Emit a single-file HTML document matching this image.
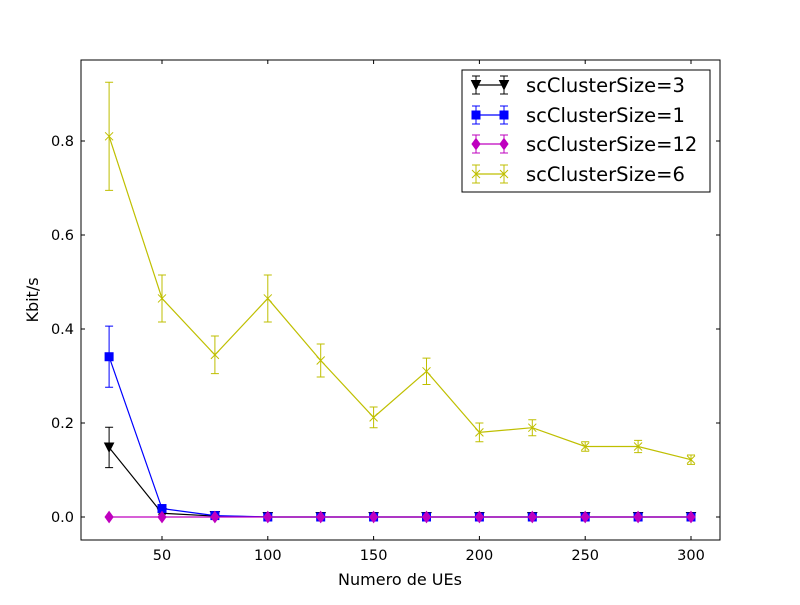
<!DOCTYPE html>
<html><head><meta charset="utf-8"><style>
body{margin:0;background:#fff;}
svg text{font-family:"DejaVu Sans","Liberation Sans",sans-serif;}
</style></head><body>
<svg id="chart" width="800" height="600" xmlns="http://www.w3.org/2000/svg">
<rect width="800" height="600" fill="#fff"/>
<g id="marks"></g>
<rect x="81" y="60" width="639" height="480" fill="none" stroke="#000" stroke-width="1"/>
<g id="axes"></g>
<text x="400" y="585" font-size="16" text-anchor="middle">Numero de UEs</text>
<text transform="translate(38,300) rotate(-90)" font-size="16" text-anchor="middle">Kbit/s</text>
<g id="legend"></g>
</svg>
<script>
const xs=[25,50,75,100,125,150,175,200,225,250,275,300];
const s3=[0.148,0.008,0.002,0,0,0,0,0,0,0,0,0];
const e3=[0.043,0.002,0,0,0,0,0,0,0,0,0,0];
const s1=[0.341,0.018,0.003,0,0,0,0,0,0,0,0,0];
const e1=[0.065,0.004,0,0,0,0,0,0,0,0,0,0];
const s12=[0,0,0,0,0,0,0,0,0,0,0,0];
const e12=[0,0,0,0,0,0,0,0,0,0,0,0];
const s6=[0.81,0.465,0.345,0.465,0.333,0.212,0.31,0.18,0.19,0.15,0.15,0.122];
const e6=[0.115,0.05,0.04,0.05,0.035,0.022,0.028,0.02,0.017,0.01,0.013,0.01];
const xTicks=[50,100,150,200,250,300];
const yTicks=[0,0.2,0.4,0.6,0.8];
const yTickLabels=["0.0","0.2","0.4","0.6","0.8"];
const names=["scClusterSize=3","scClusterSize=1","scClusterSize=12","scClusterSize=6"];

const NS="http://www.w3.org/2000/svg";
function X(v){return 162+(v-50)*(529/250);}
function Y(v){return 517-v*470;}
function mk(tag,at,parent){const e=document.createElementNS(NS,tag);for(const k in at)e.setAttribute(k,at[k]);parent.appendChild(e);return e;}
const axes=document.getElementById('axes');
xTicks.forEach(t=>{
 const l=mk('line',{x1:X(t),x2:X(t),y1:540,y2:536,stroke:'#000'},axes);
 
 
 mk('line',{x1:X(t),x2:X(t),y1:60,y2:64,stroke:'#000'},axes);
 const tx=mk('text',{x:X(t),y:560,'font-size':14.5,'text-anchor':'middle'},axes);tx.textContent=t;
 
 
});
yTicks.forEach((t,i)=>{
 const l=mk('line',{x1:81,x2:85,y1:Y(t),y2:Y(t),stroke:'#000'},axes);
 
 
 mk('line',{x1:720,x2:716,y1:Y(t),y2:Y(t),stroke:'#000'},axes);
 const tx=mk('text',{x:74,y:Y(t)+5,'font-size':14.5,'text-anchor':'end'},axes);tx.textContent=yTickLabels[i];
 
 
});
function marker(g,type,x,y,c){
 if(type==='tri'){mk('path',{d:`M${x-4.5},${y-4.5}L${x+4.5},${y-4.5}L${x},${y+4.5}Z`,fill:c,stroke:c},g);}
 else if(type==='sq'){mk('rect',{x:x-4,y:y-4,width:8,height:8,fill:c,stroke:c},g);}
 else if(type==='dia'){mk('path',{d:`M${x},${y-5.5}L${x+4},${y}L${x},${y+5.5}L${x-4},${y}Z`,fill:c,stroke:c},g);}
 else {mk('path',{d:`M${x-4},${y-4}L${x+4},${y+4}M${x-4},${y+4}L${x+4},${y-4}`,stroke:c,fill:'none'},g);}
}
const marks=document.getElementById('marks');
const series=[[s3,e3,'#000','tri'],[s1,e1,'#0000ff','sq'],[s12,e12,'#bf00bf','dia'],[s6,e6,'#bfbf00','x']];
[3,0,1,2].forEach(si=>{
 const [vals,errs,c,m]=series[si];
 const g=mk('g',{},marks);
 
 
 mk('polyline',{points:xs.map((x,i)=>X(x)+','+Y(vals[i])).join(' '),fill:'none',stroke:c,'stroke-width':1.2},g);
 xs.forEach((x,i)=>{
  if(errs[i]>0){
   const a=Y(vals[i]+errs[i]),b=Y(vals[i]-errs[i]),px=X(x);
   mk('path',{d:`M${px},${a}L${px},${b}M${px-4},${a}L${px+4},${a}M${px-4},${b}L${px+4},${b}`,stroke:c,fill:'none'},g);
  }
  marker(g,m,X(x),Y(vals[i]),c);
 });
});
const lg=document.getElementById('legend');
mk('rect',{x:462,y:70,width:248,height:122,fill:'#fff',stroke:'#000'},lg);
const ly=[85,115,144,174];
series.forEach(([v,e,c,m],i)=>{
 const y=ly[i];
 const g=mk('g',{},lg);
 
 
 mk('line',{x1:476,x2:504,y1:y,y2:y,stroke:c,'stroke-width':1.2},g);
 [476,504].forEach(px=>{mk('path',{d:`M${px},${y-9}L${px},${y+9}M${px-4},${y-9}L${px+4},${y-9}M${px-4},${y+9}L${px+4},${y+9}`,stroke:c},g);marker(g,m,px,y,c);});
 const t=mk('text',{x:526,y:y+7,'font-size':19.5},g);t.textContent=names[i];
});
</script>
</body></html>
